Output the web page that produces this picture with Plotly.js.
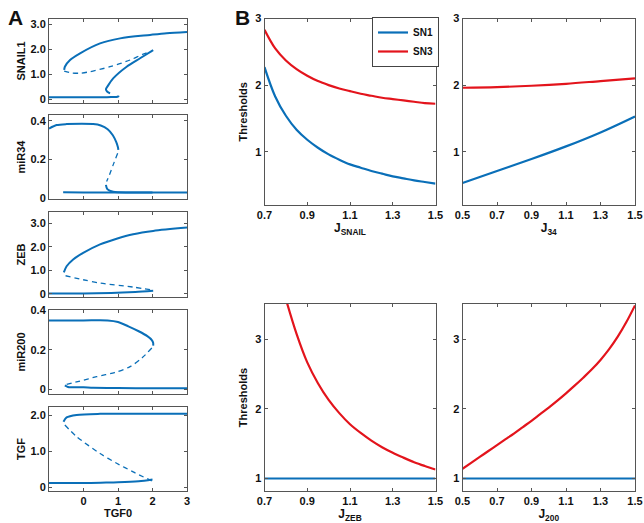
<!DOCTYPE html>
<html>
<head>
<meta charset="utf-8">
<script src="https://cdn.plot.ly/plotly-3.0.1.min.js"></script>
<style>html,body{margin:0;padding:0;background:#fff;}#chart{width:644px;height:523px;}</style>
</head>
<body>
<div id="chart"></div>
<script>
// ---------- Panel A: bifurcation diagrams vs TGF0 ----------
const snailUpX = [-0.56, -0.54, -0.39, -0.10, 0.48, 1.06, 1.93, 2.41, 3.0];
const snailUpY = [1.17, 1.30, 1.57, 1.84, 2.24, 2.44, 2.58, 2.65, 2.70];
const snailDashX = [-0.56, -0.35, -0.10, 0.19, 0.77, 1.35, 1.73, 1.98];
const snailDashY = [1.12, 1.05, 1.04, 1.10, 1.30, 1.57, 1.81, 1.92];
const snailMidX = [2.02, 1.64, 1.25, 0.86, 0.72, 0.65, 0.69, 0.77];
const snailMidY = [1.97, 1.64, 1.30, 0.83, 0.56, 0.39, 0.29, 0.23];
const snailLowX = [-1.0, -0.5, 0, 0.5, 0.8, 1.0, 1.02];
const snailLowY = [0.07, 0.07, 0.07, 0.07, 0.08, 0.10, 0.14];

const mir34UpX = [-1.0, -0.78, -0.49, 0.28, 0.5, 0.7, 0.85, 0.95, 1.0, 1.01];
const mir34UpY = [0.36, 0.378, 0.383, 0.383, 0.376, 0.357, 0.326, 0.29, 0.262, 0.25];
const mir34DashX = [0.99, 0.86, 0.75, 0.67];
const mir34DashY = [0.233, 0.173, 0.12, 0.087];
const mir34MidX = [0.65, 0.69, 0.86, 1.44, 2.0];
const mir34MidY = [0.07, 0.048, 0.034, 0.031, 0.03];
const mir34LowX = [-0.59, 0, 1, 2, 3.0];
const mir34LowY = [0.032, 0.031, 0.03, 0.03, 0.03];

const zebUpX = [-0.57, -0.49, -0.30, -0.01, 0.48, 0.96, 1.44, 2.02, 3.0];
const zebUpY = [0.91, 1.17, 1.46, 1.74, 2.10, 2.34, 2.53, 2.67, 2.81];
const zebDashX = [-0.52, -0.01, 0.48, 1.44, 1.98];
const zebDashY = [0.77, 0.60, 0.46, 0.29, 0.17];
const zebLowX = [-1.0, 0, 0.8, 1.5, 2.02];
const zebLowY = [0.02, 0.02, 0.04, 0.08, 0.13];

const mir200UpX = [-1.0, 0, 0.7, 1.0, 1.3, 1.6, 1.85, 1.98, 2.02, 2.02];
const mir200UpY = [0.35, 0.35, 0.35, 0.342, 0.32, 0.295, 0.27, 0.25, 0.235, 0.222];
const mir200DashX = [1.98, 1.7, 1.35, 0.9, 0.38, -0.1, -0.54];
const mir200DashY = [0.21, 0.16, 0.115, 0.085, 0.064, 0.042, 0.022];
const mir200LowX = [-0.54, -0.45, 0, 0.28, 1, 2, 3.0];
const mir200LowY = [0.02, 0.012, 0.01, 0.008, 0.006, 0.005, 0.005];

const tgfUpX = [-0.58, -0.49, -0.20, 0.48, 3.0];
const tgfUpY = [1.82, 1.94, 2.01, 2.04, 2.04];
const tgfDashX = [-0.54, -0.20, 0.48, 0.96, 1.44, 1.98];
const tgfDashY = [1.73, 1.41, 0.94, 0.67, 0.43, 0.18];
const tgfLowX = [-1.0, 0, 0.5, 1.0, 1.6, 2.0];
const tgfLowY = [0.12, 0.12, 0.13, 0.14, 0.17, 0.22];

// ---------- Panel B: thresholds ----------
const jSnail = [0.7, 0.75, 0.8, 0.85, 0.9, 0.95, 1.0, 1.05, 1.1, 1.15, 1.2, 1.25, 1.3, 1.35, 1.4, 1.45, 1.5];
const sn1Snail = [2.27, 1.83, 1.54, 1.33, 1.18, 1.06, 0.96, 0.88, 0.81, 0.76, 0.71, 0.67, 0.63, 0.60, 0.57, 0.545, 0.52];
const sn3Snail = [2.83, 2.55, 2.37, 2.24, 2.14, 2.06, 2.00, 1.95, 1.91, 1.87, 1.84, 1.81, 1.79, 1.77, 1.75, 1.73, 1.72];

const j34 = [0.5, 0.7, 0.9, 1.1, 1.3, 1.5];
const sn1J34 = [0.53, 0.71, 0.89, 1.08, 1.29, 1.53];
const sn3J34 = [1.96, 1.97, 1.99, 2.02, 2.06, 2.10];

const jZeb = [0.8, 0.85, 0.9, 0.95, 1.0, 1.05, 1.1, 1.15, 1.2, 1.25, 1.3, 1.35, 1.4, 1.45, 1.5];
const sn3Zeb = [3.58, 3.08, 2.67, 2.37, 2.13, 1.94, 1.78, 1.655, 1.545, 1.45, 1.37, 1.30, 1.235, 1.18, 1.13];
const jZebAll = [0.7, 1.5];
const sn1Zeb = [1.0, 1.0];

const j200 = [0.5, 0.55, 0.6, 0.65, 0.7, 0.75, 0.8, 0.85, 0.9, 0.95, 1.0, 1.05, 1.1, 1.15, 1.2, 1.25, 1.3, 1.35, 1.4, 1.45, 1.5];
const sn3J200 = [1.14, 1.225, 1.31, 1.395, 1.48, 1.565, 1.65, 1.74, 1.83, 1.925, 2.02, 2.12, 2.225, 2.335, 2.45, 2.57, 2.705, 2.86, 3.04, 3.25, 3.49];
const j200All = [0.5, 1.5];
const sn1J200 = [1.0, 1.0];

const panelATitles = ['SNAIL1', 'miR34', 'ZEB', 'miR200', 'TGF'];
const labelA = 'A', labelB = 'B';

// ---------- styling ----------
const BLUE = '#0a6fb8', RED = '#e3141c';
const F = 'Liberation Sans, Arial, sans-serif';
const W = 644, H = 523;
const fx = p => p / W, fy = p => 1 - p / H;

function solid(x, y, xa, ya, opts) {
  return Object.assign({x: x, y: y, xaxis: xa, yaxis: ya, mode: 'lines', showlegend: false,
    line: {color: BLUE, width: 2, shape: 'spline', smoothing: 0.8}}, opts || {});
}
function dashed(x, y, xa, ya) {
  return {x: x, y: y, xaxis: xa, yaxis: ya, mode: 'lines', showlegend: false,
    line: {color: BLUE, width: 1.3, dash: '5px,4px', shape: 'spline', smoothing: 0.8}};
}
const redLine = {color: RED, width: 2.2, shape: 'spline', smoothing: 1};
const blueB = {color: BLUE, width: 2.2, shape: 'spline', smoothing: 1};

const traces = [
  solid(snailLowX, snailLowY, 'x', 'y'), solid(snailMidX, snailMidY, 'x', 'y'),
  dashed(snailDashX, snailDashY, 'x', 'y'), solid(snailUpX, snailUpY, 'x', 'y'),
  solid(mir34UpX, mir34UpY, 'x2', 'y2'), dashed(mir34DashX, mir34DashY, 'x2', 'y2'),
  solid(mir34MidX, mir34MidY, 'x2', 'y2'), solid(mir34LowX, mir34LowY, 'x2', 'y2'),
  solid(zebUpX, zebUpY, 'x3', 'y3'), dashed(zebDashX, zebDashY, 'x3', 'y3'),
  solid(zebLowX, zebLowY, 'x3', 'y3'),
  solid(mir200UpX, mir200UpY, 'x4', 'y4'), dashed(mir200DashX, mir200DashY, 'x4', 'y4'),
  solid(mir200LowX, mir200LowY, 'x4', 'y4'),
  solid(tgfUpX, tgfUpY, 'x5', 'y5'), dashed(tgfDashX, tgfDashY, 'x5', 'y5'),
  solid(tgfLowX, tgfLowY, 'x5', 'y5'),
  solid(jSnail, sn1Snail, 'x6', 'y6', {name: 'SN1', showlegend: true, line: blueB}),
  solid(jSnail, sn3Snail, 'x6', 'y6', {name: 'SN3', showlegend: true, line: redLine}),
  solid(j34, sn1J34, 'x7', 'y7', {line: blueB}),
  solid(j34, sn3J34, 'x7', 'y7', {line: redLine}),
  solid(jZebAll, sn1Zeb, 'x8', 'y8', {line: blueB}),
  solid(jZeb, sn3Zeb, 'x8', 'y8', {line: redLine}),
  solid(j200All, sn1J200, 'x9', 'y9', {line: blueB}),
  solid(j200, sn3J200, 'x9', 'y9', {line: redLine})
];

const tickFont = {family: F, size: 11, weight: 'bold', color: '#111'};
const titleFont = {family: F, size: 11, weight: 'bold', color: '#111'};
const bTitleFont = {family: F, size: 12, weight: 'bold', color: '#111'};
function ax(extra) {
  return Object.assign({showgrid: false, zeroline: false, showline: true, mirror: 'ticks',
    linecolor: '#555', linewidth: 1, ticks: 'inside', ticklen: 3, tickcolor: '#555',
    tickfont: tickFont, fixedrange: true}, extra);
}

const layout = {
  width: W, height: H, margin: {l: 0, r: 0, t: 0, b: 0},
  paper_bgcolor: '#fff', plot_bgcolor: '#fff',
  font: {family: F},
  legend: {x: fx(372), y: fy(17), xanchor: 'left', yanchor: 'top', bgcolor: '#fff',
    bordercolor: '#444', borderwidth: 1, font: {family: F, size: 10, weight: 'bold', color: '#111'},
    tracegroupgap: 0, itemwidth: 30},
  annotations: [
    {text: '<b>' + labelA + '</b>', x: fx(16), y: fy(17), xanchor: 'center', yanchor: 'middle',
      xref: 'paper', yref: 'paper', showarrow: false, font: {family: F, size: 21, color: '#111'}},
    {text: '<b>' + labelB + '</b>', x: fx(242), y: fy(17), xanchor: 'center', yanchor: 'middle',
      xref: 'paper', yref: 'paper', showarrow: false, font: {family: F, size: 21, color: '#111'}}
  ]
};

// Panel A axes
const aTops = [19, 115, 212, 310, 407], aBots = [103, 199, 297, 394, 491];
const aRanges = [[-0.16, 3.22], [-0.003, 0.43], [-0.13, 3.47], [-0.024, 0.403], [-0.1, 2.23]];
const aTickVals = [[0, 1, 2, 3], [0, 0.2, 0.4], [0, 1, 2, 3], [0, 0.2, 0.4], [0, 1, 2]];
const aTickText = [['0', '1.0', '2.0', '3.0'], ['0', '0.2', '0.4'], ['0', '1.0', '2.0', '3.0'], ['0', '0.2', '0.4'], ['0', '1.0', '2.0']];
for (let i = 0; i < 5; i++) {
  const n = i === 0 ? '' : String(i + 1);
  const xa = ax({domain: [fx(49), fx(187)], anchor: 'y' + n, range: [-1, 3],
    tickvals: [0, 1, 2, 3], ticktext: ['0', '1', '2', '3'], showticklabels: i === 4});
  if (i === 4) xa.title = {text: 'TGF0', font: titleFont, standoff: 0};
  layout['xaxis' + n] = xa;
  layout['yaxis' + n] = ax({domain: [fy(aBots[i]), fy(aTops[i])], anchor: 'x' + n, range: aRanges[i],
    tickvals: aTickVals[i], ticktext: aTickText[i],
    title: {text: panelATitles[i], font: titleFont, standoff: 2}});
}

// Panel B axes
const bX = [[264.5, 435.5], [462.5, 635], [264.5, 435.5], [462.5, 635]];
const bY = [[18.5, 205], [18.5, 205], [304, 491], [304, 491]];
const bXR = [[0.7, 1.5], [0.5, 1.5], [0.7, 1.5], [0.5, 1.5]];
const bYR = [[0.2, 3], [0.2, 3], [0.82, 3.51], [0.82, 3.51]];
const bXT = ['J<sub>SNAIL</sub>', 'J<sub>34</sub>', 'J<sub>ZEB</sub>', 'J<sub>200</sub>'];
for (let k = 0; k < 4; k++) {
  const n = String(k + 6);
  const tv = bXR[k][0] === 0.7 ? [0.7, 0.9, 1.1, 1.3, 1.5] : [0.5, 0.7, 0.9, 1.1, 1.3, 1.5];
  layout['xaxis' + n] = ax({domain: [fx(bX[k][0]), fx(bX[k][1])], anchor: 'y' + n, range: bXR[k],
    tickvals: tv, ticktext: tv.map(v => v.toFixed(1)),
    title: {text: bXT[k], font: bTitleFont, standoff: 3}});
  const ya = ax({domain: [fy(bY[k][1]), fy(bY[k][0])], anchor: 'x' + n, range: bYR[k],
    tickvals: [1, 2, 3], ticktext: ['1', '2', '3']});
  if (k % 2 === 0) ya.title = {text: 'Thresholds', font: titleFont, standoff: 5};
  layout['yaxis' + n] = ya;
}

Plotly.newPlot('chart', traces, layout, {staticPlot: true, displayModeBar: false});
</script>
</body>
</html>
